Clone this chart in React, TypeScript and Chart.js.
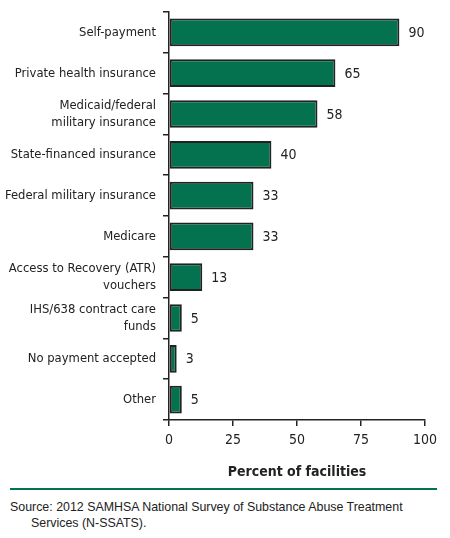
import { useEffect, useRef } from 'react';
import { Chart, registerables } from 'chart.js';

Chart.register(...registerables);

const categories: (string | string[])[] = [
  'Self-payment',
  'Private health insurance',
  ['Medicaid/federal', 'military insurance'],
  'State-financed insurance',
  'Federal military insurance',
  'Medicare',
  ['Access to Recovery (ATR)', 'vouchers'],
  ['IHS/638 contract care', 'funds'],
  'No payment accepted',
  'Other',
];

const percents = [90, 65, 58, 40, 33, 33, 13, 5, 3, 5];

const xTicks = [0, 25, 50, 75, 100];

const FONT = "'Liberation Sans Narrow', 'DejaVu Sans Condensed', 'Arial Narrow', sans-serif";
const GREEN = '#04714f';
const INK = '#222222';

const valueLabels = {
  id: 'valueLabels',
  afterDatasetsDraw(chart: Chart) {
    const { ctx } = chart;
    const meta = chart.getDatasetMeta(0);
    ctx.save();
    ctx.font = `14px ${FONT}`;
    ctx.fillStyle = INK;
    ctx.textAlign = 'left';
    ctx.textBaseline = 'middle';
    meta.data.forEach((bar, i) => {
      ctx.fillText(String(percents[i]), bar.x + 9, bar.y + 1);
    });
    ctx.restore();
  },
};

export default function App(): React.JSX.Element {
  const canvasRef = useRef<HTMLCanvasElement>(null);
  const chartRef = useRef<Chart | null>(null);

  useEffect(() => {
    if (!canvasRef.current) return;

    if (chartRef.current) {
      chartRef.current.destroy();
    }

    chartRef.current = new Chart(canvasRef.current, {
      type: 'bar',
      data: {
        labels: categories,
        datasets: [
          {
            data: percents,
            backgroundColor: GREEN,
            borderColor: INK,
            borderWidth: 2,
            borderSkipped: false,
            categoryPercentage: 1,
            barPercentage: 0.68,
          },
        ],
      },
      plugins: [valueLabels],
      options: {
        indexAxis: 'y',
        animation: false,
        responsive: true,
        maintainAspectRatio: false,
        layout: { padding: { top: 12, right: 25, left: 0, bottom: 4 } },
        plugins: {
          legend: { display: false },
          tooltip: { enabled: false },
        },
        scales: {
          x: {
            min: 0,
            max: 100,
            afterBuildTicks: (scale) => {
              scale.ticks = xTicks.map((v) => ({ value: v }));
            },
            afterFit: (scale) => {
              scale.height = 61;
            },
            ticks: {
              color: INK,
              font: { family: FONT, size: 14 },
              padding: 6,
            },
            grid: {
              drawOnChartArea: false,
              drawTicks: true,
              tickLength: 6,
              color: INK,
              lineWidth: 1.5,
            },
            border: { display: true, color: INK, width: 1.5 },
            title: {
              display: true,
              text: 'Percent of facilities',
              color: INK,
              font: { family: FONT, size: 14, weight: 'bold' },
              padding: { top: 6, bottom: 0 },
            },
          },
          y: {
            afterFit: (scale) => {
              scale.width = 169;
              scale.paddingTop = 0;
              scale.paddingBottom = 0;
            },
            ticks: {
              color: INK,
              font: { family: FONT, size: 12.9, lineHeight: 1.3 },
              padding: 7,
            },
            grid: {
              offset: true,
              drawOnChartArea: false,
              drawTicks: true,
              tickLength: 6,
              color: INK,
              lineWidth: 1.5,
            },
            border: { display: true, color: INK, width: 1.5 },
          },
        },
      },
    });

    return () => {
      chartRef.current?.destroy();
      chartRef.current = null;
    };
  }, []);

  return (
    <div
      style={{
        position: 'absolute',
        left: 0,
        top: 0,
        width: 450,
        height: 538,
        background: '#ffffff',
      }}
    >
      <div style={{ position: 'relative', width: 450, height: 485 }}>
        <canvas ref={canvasRef} />
      </div>
      <div
        style={{
          position: 'absolute',
          left: 10,
          top: 488,
          width: 427,
          height: 0,
          borderTop: `2px solid ${GREEN}`,
        }}
      />
      <div
        style={{
          position: 'absolute',
          left: 10,
          top: 499,
          width: 420,
          paddingLeft: 21,
          textIndent: -21,
          fontFamily: "'Liberation Sans', Arial, sans-serif",
          fontSize: 12.4,
          lineHeight: '16px',
          color: INK,
        }}
      >
        Source: 2012 SAMHSA National Survey of Substance Abuse Treatment Services (N-SSATS).
      </div>
    </div>
  );
}
